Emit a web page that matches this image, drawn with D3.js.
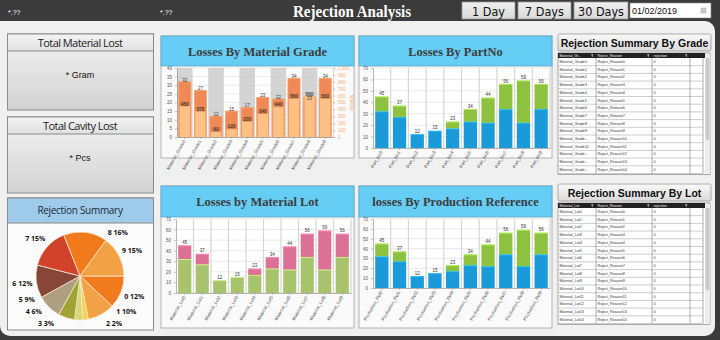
<!DOCTYPE html>
<html>
<head>
<meta charset="utf-8">
<script src="https://cdn.jsdelivr.net/npm/d3@7"></script>
<style>
  html, body { margin: 0; padding: 0; background: #3b3b3b; }
  svg { display: block; }
</style>
</head>
<body>
<div id="chart"></div>
<script>
// categories
let gradeCats = ["Material_Grade0", "Material_Grade1", "Material_Grade2", "Material_Grade3", "Material_Grade4",
                 "Material_Grade5", "Material_Grade6", "Material_Grade7", "Material_Grade8", "Material_Grade9"];
let partCats = ["Part_No0", "Part_No1", "Part_No2", "Part_No3", "Part_No4",
                "Part_No5", "Part_No6", "Part_No7", "Part_No8", "Part_No9"];
let lotCats = ["Material_Lot0", "Material_Lot1", "Material_Lot2", "Material_Lot3", "Material_Lot4",
               "Material_Lot5", "Material_Lot6", "Material_Lot7", "Material_Lot8", "Material_Lot9"];
let refCats = ["Production_Ref0", "Production_Ref1", "Production_Ref2", "Production_Ref3", "Production_Ref4",
               "Production_Ref5", "Production_Ref6", "Production_Ref7", "Production_Ref8", "Production_Ref9"];

// losses by material grade: rejected count (left axis) and material in gram (right axis)
let gradeCount = [32, 27, 12, 15, 17, 23, 22, 34, 23, 34];
let gradeGram = [450, 375, 80, 120, 230, 340, 440, 560, 590, 560];

// stacked losses, shared by part no / lot / production reference
let lossBase = [32, 27, 12, 15, 17, 23, 22, 34, 22, 34];
let lossTop = [13, 10, 0, 0, 6, 11, 22, 22, 37, 22];

// rejection summary pie
let pieKeys = ["0", "1", "2", "3", "4", "5", "6", "7", "8", "9"];
let pieShare = [12, 10, 2, 3, 6, 9, 12, 15, 16, 15];
let pieColors = ["#f07a1c", "#f2a144", "#f6d348", "#d6d67a", "#9ea332", "#ae9f80", "#874637", "#d0432a", "#f07a1c", "#f2a144"];

// tick values
let gradeLeftTicks = [0, 5, 10, 15, 20, 25, 30, 35, 40];
let gradeRightTicks = [0, 100, 200, 300, 400, 500, 600, 700, 800, 900, 1000];
let lossTicks = [0, 10, 20, 30, 40, 50, 60, 70];

// table rows
let gradeRows = ["Material_Grade0", "Material_Grade1", "Material_Grade2", "Material_Grade3", "Material_Grade4",
                 "Material_Grade5", "Material_Grade6", "Material_Grade7", "Material_Grade8", "Material_Grade9",
                 "Material_Grade10", "Material_Grade11", "Material_Grade12", "Material_Grade13", "Material_Grade14"];
let lotRows = ["Material_Lot0", "Material_Lot1", "Material_Lot2", "Material_Lot3", "Material_Lot4",
               "Material_Lot5", "Material_Lot6", "Material_Lot7", "Material_Lot8", "Material_Lot9",
               "Material_Lot10", "Material_Lot11", "Material_Lot12", "Material_Lot13", "Material_Lot14"];
let reasonRows = ["Reject_Reason0", "Reject_Reason1", "Reject_Reason2", "Reject_Reason3", "Reject_Reason4",
                  "Reject_Reason5", "Reject_Reason6", "Reject_Reason7", "Reject_Reason8", "Reject_Reason9",
                  "Reject_Reason10", "Reject_Reason11", "Reject_Reason12", "Reject_Reason13", "Reject_Reason14"];
let rejectionRows = [0, 0, 0, 0, 0, 0, 0, 0, 0, 0, 0, 0, 0, 0, 0];

// small helper so attributes can be set from one object
d3.selection.prototype.attrs = function(obj) {
    for (let k in obj) this.attr(k, obj[k]);
    return this;
};

const width = 720, height = 340;
const SERIF = "'Liberation Serif', 'DejaVu Serif', serif";
const SANS = "'Liberation Sans', Arial, sans-serif";
const UI = "'Open Sans', 'Noto Sans', sans-serif";

let svg = d3.select('#chart').append('svg')
            .attr('width', width)
            .attr('height', height);

let defs = svg.append('defs');
function vGrad(id, c1, c2) {
    let g = defs.append('linearGradient').attr('id', id)
                .attr('x1', 0).attr('y1', 0).attr('x2', 0).attr('y2', 1);
    g.append('stop').attr('offset', '0%').attr('stop-color', c1);
    g.append('stop').attr('offset', '100%').attr('stop-color', c2);
}
vGrad('boxHead', '#f4f4f4', '#e0e0e0');
vGrad('boxBody', '#f3f3f3', '#d2d2d2');
vGrad('btn', '#f0f0f0', '#d8d8d8');
vGrad('tblBtn', '#fafafa', '#dadada');

// page background
svg.append('rect').attrs({x: 0, y: 0, width: width, height: height, fill: '#3b3b3b'});
svg.append('rect').attrs({x: 0, y: 21, width: 715, height: 315, rx: 10, fill: '#f0f0f0'});
svg.append('rect').attrs({x: 0, y: 21, width: 20, height: 20, fill: '#f0f0f0'});

// header bar
svg.append('text').attrs({x: 8, y: 15, fill: '#fff', 'font-size': 7, 'font-family': SANS}).text('*.??');
svg.append('text').attrs({x: 160, y: 15, fill: '#fff', 'font-size': 7, 'font-family': SANS}).text('*.??');
svg.append('text')
   .attrs({x: 293, y: 17, fill: '#fff', 'font-size': 16.5, 'font-weight': 'bold',
           'font-family': SERIF, textLength: 118, lengthAdjust: 'spacingAndGlyphs'})
   .text('Rejection Analysis');

let buttons = [{label: '1 Day', x: 462, w: 53}, {label: '7 Days', x: 518, w: 53}, {label: '30 Days', x: 574, w: 54}];
buttons.forEach(b => {
    svg.append('rect').attrs({x: b.x, y: 2, width: b.w, height: 17, fill: 'url(#btn)', stroke: '#999', 'stroke-width': 0.8});
    svg.append('text')
       .attrs({x: b.x + b.w / 2, y: 15.5, 'text-anchor': 'middle', 'font-size': 12.5,
               'font-family': "'Liberation Sans Narrow', 'DejaVu Sans Condensed', sans-serif", fill: '#111'})
       .text(b.label);
});
svg.append('rect').attrs({x: 630, y: 3, width: 81, height: 15, fill: '#fff', stroke: '#888', 'stroke-width': 0.6});
svg.append('text').attrs({x: 632, y: 14, 'font-size': 9, 'font-family': SANS, fill: '#111'}).text('01/02/2019');
svg.append('rect').attrs({x: 701, y: 8, width: 5, height: 5, fill: '#ccc', stroke: '#999', 'stroke-width': 0.4});

// left info boxes
function infoBox(y, h, title, value, valueY) {
    let g = svg.append('g');
    g.append('rect').attrs({x: 7.5, y: y, width: 146, height: h, fill: 'url(#boxBody)', stroke: '#8a8a8a', 'stroke-width': 1});
    g.append('rect').attrs({x: 7.5, y: y, width: 146, height: 17, fill: 'url(#boxHead)', stroke: '#8a8a8a', 'stroke-width': 1});
    g.append('text')
     .attrs({x: 80, y: y + 12.8, 'text-anchor': 'middle', 'font-size': 11, 'font-family': UI, fill: '#222',
             'letter-spacing': -0.55})
     .text(title);
    g.append('text')
     .attrs({x: 80, y: valueY, 'text-anchor': 'middle', 'font-size': 9, 'font-family': SANS, fill: '#111'})
     .text(value);
}
infoBox(34, 76, 'Total Material Lost', '* Gram', 78);
infoBox(117, 76, 'Total Cavity Lost', '* Pcs', 161);

// rejection summary box with pie
svg.append('rect').attrs({x: 7.5, y: 198, width: 146, height: 132, fill: '#fbfbfb', stroke: '#8a8a8a', 'stroke-width': 1});
svg.append('rect').attrs({x: 7.5, y: 198, width: 146, height: 25, fill: '#9fcbea', stroke: '#8a8a8a', 'stroke-width': 1});
svg.append('text')
   .attrs({x: 80, y: 213.5, 'text-anchor': 'middle', 'font-size': 10, 'font-family': UI, fill: '#1d2a3a',
           'letter-spacing': -0.3})
   .text('Rejection Summary');

function drawPie() {
    let cx = 80, cy = 276, r = 44;
    let pie = d3.pie().sort(null).startAngle(Math.PI / 2).endAngle(Math.PI / 2 + 2 * Math.PI);
    let arcs = pie(pieShare);
    let arc = d3.arc().innerRadius(0).outerRadius(r);
    let g = svg.append('g').attr('transform', `translate(${cx},${cy})`);
    g.selectAll('path').data(arcs).join('path')
     .attr('d', arc)
     .attr('fill', (d, i) => pieColors[i])
     .attr('stroke', '#f7e6cf')
     .attr('stroke-width', 0.8);

    // label layout: start at slice mid angle, then push apart vertically per side
    let R = 58, gap = 12, yMin = -44, yMax = 47;
    let labels = arcs.map((d, i) => {
        let a = (d.startAngle + d.endAngle) / 2;
        return {i: i, side: Math.sin(a) >= 0 ? 1 : -1, y: -Math.cos(a) * 56};
    });
    [1, -1].forEach(side => {
        let list = labels.filter(l => l.side === side).sort((a, b) => b.y - a.y);
        let limit = yMax;
        list.forEach(l => {
            l.y = Math.max(yMin, Math.min(l.y, limit));
            limit = l.y - gap;
        });
    });
    labels.forEach(l => {
        let dx = Math.sqrt(Math.max(R * R - l.y * l.y, (R * 0.5) * (R * 0.5)));
        l.x = l.side * dx;
    });
    g.selectAll('text').data(labels).join('text')
     .attr('x', d => d.x)
     .attr('y', d => d.y + 2.5)
     .attr('text-anchor', 'middle')
     .attr('font-size', 7)
     .attr('font-weight', 'bold')
     .attr('font-family', UI)
     .attr('fill', '#111')
     .text(d => pieKeys[d.i] + ' ' + pieShare[d.i] + '%');
}
drawPie();

// chart panels
function panel(x, y, w, h, headH, title) {
    let g = svg.append('g');
    g.append('rect').attrs({x: x, y: y, width: w, height: h, fill: '#fafafa', stroke: '#b4b4b4', 'stroke-width': 1});
    g.append('rect').attrs({x: x, y: y, width: w, height: headH, fill: '#66cdf5', stroke: '#58a8cc', 'stroke-width': 0.8});
    g.append('text')
     .attrs({x: x + w / 2, y: y + headH / 2 + 4.5, 'text-anchor': 'middle', 'font-size': 12.5,
             'font-weight': 'bold', 'font-family': SERIF, fill: '#3d3d3d'})
     .text(title);
    return g;
}

function tickStyle(sel, color) {
    sel.select('.domain').attr('stroke', '#888').attr('stroke-width', 0.6);
    sel.selectAll('.tick line').attr('stroke', '#888').attr('stroke-width', 0.5);
    sel.selectAll('.tick text').attr('font-size', 4.5).attr('font-family', SANS).attr('fill', color || '#555');
}

function xLabels(g, x, cats, yBot) {
    let ax = g.append('g')
              .attr('transform', `translate(0,${yBot})`)
              .call(d3.axisBottom(x).tickSize(2).tickSizeOuter(0));
    tickStyle(ax);
    ax.selectAll('.tick text')
      .attr('text-anchor', 'end')
      .attr('dx', 0)
      .attr('dy', 0)
      .attr('y', 0)
      .attr('transform', 'translate(1,4) rotate(-60)');
}

function gradeChart() {
    let g = panel(161, 36, 193, 122, 30, 'Losses By Material Grade');
    let x0 = 177, x1 = 333, yTop = 68, yBot = 137;
    let band = d3.scaleBand().domain(gradeCats).range([x0, x1]).padding(0);
    let x = d3.scaleBand().domain(gradeCats).range([x0, x1]).paddingInner(0.22).paddingOuter(0.11);
    let yL = d3.scaleLinear().domain([0, 40]).range([yBot, yTop]);
    let yR = d3.scaleLinear().domain([0, 1000]).range([yBot, yTop]);

    g.append('rect').attrs({x: x0, y: yTop, width: x1 - x0, height: yBot - yTop, fill: '#fff'});
    g.selectAll('.stripe').data(gradeCats.filter((c, i) => i % 2 === 0)).join('rect')
     .attr('x', d => band(d)).attr('y', yTop)
     .attr('width', band.bandwidth()).attr('height', yBot - yTop)
     .attr('fill', '#d4d4d4');
    g.selectAll('.grid').data(gradeLeftTicks).join('line')
     .attr('x1', x0).attr('x2', x1)
     .attr('y1', d => yL(d)).attr('y2', d => yL(d))
     .attr('stroke', '#c4c4c4').attr('stroke-opacity', 0.6).attr('stroke-width', 0.5);

    // rejected count
    g.selectAll('.cnt').data(gradeCount).join('rect')
     .attr('x', (d, i) => x(gradeCats[i])).attr('y', d => yL(d))
     .attr('width', x.bandwidth()).attr('height', d => yBot - yL(d))
     .attr('fill', '#ef8a56').attr('stroke', '#f6a070').attr('stroke-width', 0.8);
    // material in gram
    g.selectAll('.gram').data(gradeGram).join('rect')
     .attr('x', (d, i) => x(gradeCats[i]) + 0.9).attr('y', d => yR(d))
     .attr('width', x.bandwidth() - 1.8).attr('height', d => yBot - yR(d))
     .attr('fill', '#fec183');

    // value labels sit on the bar tops; a count label that would hit its gram label drops below it
    let lbl = gradeCats.map((c, i) => {
        let gy = yR(gradeGram[i]) - 0.3;
        let cy = yL(gradeCount[i]) - 0.3;
        if (Math.abs(cy - gy) < 4.5) cy = gy + 4.5;
        return {cx: x(c) + x.bandwidth() / 2, gy: gy, cy: cy, count: gradeCount[i], gram: gradeGram[i]};
    });
    g.selectAll('.gramBox').data(lbl).join('rect')
     .attr('x', d => d.cx - 4.5).attr('y', d => d.gy - 3.8)
     .attr('width', 9).attr('height', 4.8)
     .attr('fill', '#000').attr('fill-opacity', 0.13);
    g.selectAll('.gramLbl').data(lbl).join('text')
     .attr('x', d => d.cx).attr('y', d => d.gy)
     .attr('text-anchor', 'middle').attr('font-size', 4.5).attr('font-family', SANS).attr('fill', '#333')
     .text(d => d.gram);
    g.selectAll('.cntLbl').data(lbl).join('text')
     .attr('x', d => d.cx).attr('y', d => d.cy)
     .attr('text-anchor', 'middle').attr('font-size', 4.5).attr('font-family', SANS).attr('fill', '#333')
     .text(d => d.count);

    let al = g.append('g').attr('transform', `translate(${x0},0)`)
              .call(d3.axisLeft(yL).tickValues(gradeLeftTicks).tickSize(2).tickSizeOuter(0));
    tickStyle(al);
    let ar = g.append('g').attr('transform', `translate(${x1},0)`)
              .call(d3.axisRight(yR).tickValues(gradeRightTicks).tickSize(2).tickSizeOuter(0));
    tickStyle(ar, '#f7ad7c');
    ar.select('.domain').attr('stroke', '#f7c4a0');
    g.append('text')
     .attrs({transform: `translate(350,${(yTop + yBot) / 2}) rotate(90)`, 'text-anchor': 'middle',
             'font-size': 4.5, 'font-family': SANS, fill: '#f7ad7c'})
     .text('Material');
    xLabels(g, x, gradeCats, yBot);
}

function stackChart(px, py, ph, headH, title, cats, plot, baseColor, topColor) {
    let g = panel(px, py, 193, ph, headH, title);
    let x0 = plot[0], x1 = plot[1], yTop = plot[2], yBot = plot[3];
    let band = d3.scaleBand().domain(cats).range([x0, x1]).padding(0);
    let x = d3.scaleBand().domain(cats).range([x0, x1]).paddingInner(0.25).paddingOuter(0.125);
    let y = d3.scaleLinear().domain([0, 70]).range([yBot, yTop]);

    g.append('rect').attrs({x: x0, y: yTop, width: x1 - x0, height: yBot - yTop, fill: '#fff'});
    g.selectAll('.hgrid').data(lossTicks).join('line')
     .attr('x1', x0).attr('x2', x1)
     .attr('y1', d => y(d)).attr('y2', d => y(d))
     .attr('stroke', '#dcdcdc').attr('stroke-width', 0.6);
    g.selectAll('.vgrid').data(cats).join('line')
     .attr('x1', d => band(d) + band.bandwidth()).attr('x2', d => band(d) + band.bandwidth())
     .attr('y1', yTop).attr('y2', yBot)
     .attr('stroke', '#d6d6d6').attr('stroke-width', 1.2);

    let stacked = cats.map((c, i) => ({c: c, base: lossBase[i], top: lossTop[i]}));
    let bars = g.selectAll('.bar').data(stacked).join('g');
    bars.append('rect')
        .attr('x', d => x(d.c)).attr('y', d => y(d.base))
        .attr('width', x.bandwidth()).attr('height', d => yBot - y(d.base))
        .attr('fill', baseColor);
    bars.append('rect')
        .attr('x', d => x(d.c)).attr('y', d => y(d.base + d.top))
        .attr('width', x.bandwidth()).attr('height', d => y(d.base) - y(d.base + d.top))
        .attr('fill', topColor);
    // light edge on top of each segment
    bars.append('line')
        .attr('x1', d => x(d.c)).attr('x2', d => x(d.c) + x.bandwidth())
        .attr('y1', d => y(d.base) + 0.4).attr('y2', d => y(d.base) + 0.4)
        .attr('stroke', d3.color(baseColor).brighter(0.7)).attr('stroke-width', 0.8);
    bars.filter(d => d.top > 0).append('line')
        .attr('x1', d => x(d.c)).attr('x2', d => x(d.c) + x.bandwidth())
        .attr('y1', d => y(d.base + d.top) + 0.4).attr('y2', d => y(d.base + d.top) + 0.4)
        .attr('stroke', d3.color(topColor).brighter(0.7)).attr('stroke-width', 0.8);
    bars.append('text')
        .attr('x', d => x(d.c) + x.bandwidth() / 2)
        .attr('y', d => y(d.base + d.top) - 1.5)
        .attr('text-anchor', 'middle').attr('font-size', 4.5).attr('font-family', SANS).attr('fill', '#333')
        .text(d => d.base + d.top);

    let al = g.append('g').attr('transform', `translate(${x0},0)`)
              .call(d3.axisLeft(y).tickValues(lossTicks).tickSize(2).tickSizeOuter(0));
    tickStyle(al);
    xLabels(g, x, cats, yBot);
}

gradeChart();
stackChart(359, 36, 122, 30, 'Losses By PartNo', partCats, [373, 550, 68, 148], '#1b9ad9', '#8cc23f');
stackChart(161, 186, 142, 31, 'Losses by Material Lot', lotCats, [176, 351, 219, 293], '#a7c36c', '#dc7196');
stackChart(359, 186, 142, 31, 'losses By Production Reference', refCats, [373, 550, 219, 288], '#1b9ad9', '#8cc23f');

// cut a cell text with an ellipsis when it does not fit its column
function fitText(t, full, maxW) {
    let node = t.node();
    if (node.getComputedTextLength() <= maxW) return;
    let s = full;
    while (s.length > 1) {
        s = s.slice(0, -1);
        t.text(s + '...');
        if (node.getComputedTextLength() <= maxW) return;
    }
}

// rejection summary tables
function summaryTable(y, title, keyHead, keys) {
    let x = 558;
    let cols = [38, 56, 38, 13];
    let rowH = 7.7, headH = 5;
    let g = svg.append('g');
    g.append('rect').attrs({x: x, y: y, width: 153, height: 17, rx: 1.5, fill: 'url(#tblBtn)', stroke: '#9a9a9a', 'stroke-width': 0.8});
    g.append('text')
     .attrs({x: x + 76.5, y: y + 12.5, 'text-anchor': 'middle', 'font-size': 10.5, 'font-weight': 'bold',
             'font-family': SANS, fill: '#111'})
     .text(title);

    let ty = y + 19;
    let tableH = headH + rowH * keys.length;
    g.append('rect').attrs({x: x, y: ty, width: 152, height: tableH + 1, fill: '#fff', stroke: '#777', 'stroke-width': 0.6});
    g.append('rect').attrs({x: x, y: ty, width: 147, height: headH, fill: '#222'});

    let colX = [x];
    cols.forEach((w, i) => colX.push(colX[i] + w));
    let heads = [keyHead, 'Reject_Reason', 'rejection'];
    heads.forEach((h, i) => {
        let t = g.append('text')
                 .attrs({x: colX[i] + 1.5, y: ty + 3.8, 'font-size': 3.6, 'font-family': SANS, fill: '#eee'})
                 .text(h);
        fitText(t, h, cols[i] - 16);
        g.append('path')
         .attr('d', `M${colX[i + 1] - 5},${ty + 1.3}h2.4l-0.8,1v1.6l-0.8,-0.4v-1.2z`)
         .attr('fill', '#ddd');
    });

    let rows = keys.map((k, i) => [k, reasonRows[i], rejectionRows[i]]);
    rows.forEach((r, ri) => {
        let ry = ty + headH + ri * rowH;
        g.append('line').attrs({x1: x, x2: colX[4], y1: ry + rowH, y2: ry + rowH, stroke: '#9a9a9a', 'stroke-width': 0.5});
        r.forEach((v, ci) => {
            let t = g.append('text')
                     .attrs({x: colX[ci] + 1.5, y: ry + 5, 'font-size': 3.7, 'font-family': SANS, fill: '#333'})
                     .text(v);
            fitText(t, String(v), cols[ci] - 8.5);
        });
    });
    colX.slice(1, 5).forEach(cx => {
        g.append('line').attrs({x1: cx, x2: cx, y1: ty + headH, y2: ty + tableH, stroke: '#777', 'stroke-width': 0.6});
    });

    // scrollbar
    g.append('rect').attrs({x: 705, y: ty + 1, width: 5, height: tableH - 1, fill: '#ececec'});
    g.append('rect').attrs({x: 705.6, y: ty + 5, width: 3.8, height: tableH * 0.68, rx: 1, fill: '#c9c9c9'});
}

summaryTable(34, 'Rejection Summary By Grade', 'Material_Grade', gradeRows);
summaryTable(184, 'Rejection Summary By Lot', 'Material_Lot', lotRows);
</script>
</body>
</html>
